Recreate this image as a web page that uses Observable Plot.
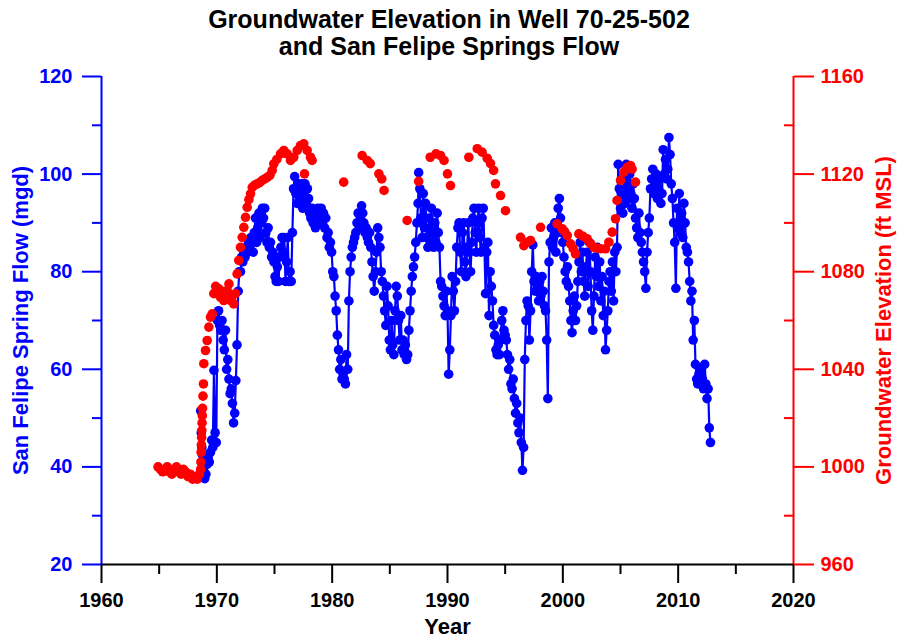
<!DOCTYPE html>
<html>
<head>
<meta charset="utf-8">
<script src="https://cdn.jsdelivr.net/npm/d3@7"></script>
<script src="https://cdn.jsdelivr.net/npm/@observablehq/plot@0.6"></script>
<style>
  body { margin: 0; background: #fff; font-family: "Liberation Sans", Arial, sans-serif; }
  #title { height: 62px; box-sizing: border-box; padding-top: 6px; text-align: center;
           font-weight: bold; font-size: 25px; line-height: 27px; color: #000; }
  #chart svg { display: block; }
</style>
</head>
<body>
<div id="title">Groundwater Elevation in Well 70-25-502<br>and San Felipe Springs Flow</div>
<div id="chart"></div>
<script>
// ---- Data ----
const chartTitle = ["Groundwater Elevation in Well 70-25-502", "and San Felipe Springs Flow"];
const xLabel = "Year";
const flowLabel = "San Felipe Spring Flow (mgd)";
const elevLabel = "Groundwater Elevation (ft MSL)";

const yearMajorTicks = [1960, 1970, 1980, 1990, 2000, 2010, 2020];
const yearMinorTicks = [1965, 1975, 1985, 1995, 2005, 2015];
const flowMajorTicks = [20, 40, 60, 80, 100, 120];
const flowMinorTicks = [30, 50, 70, 90, 110];
const elevMajorTicks = [960, 1000, 1040, 1080, 1120, 1160];
const elevMinorTicks = [980, 1020, 1060, 1100, 1140];

// San Felipe Springs flow [year, mgd]
const flowReadings = [
[1968.60,51.5],[1968.65,47],[1968.70,44],[1968.75,42.5],[1968.80,40.5],[1968.85,41.5],[1968.90,39],[1968.95,37.6],[1969.05,38.5],[1969.15,40.5],[1969.25,42],[1969.35,41],[1969.45,43],[1969.55,45.5],[1969.65,44],[1969.75,59.8],[1969.85,47],[1969.95,45],
[1970.05,70],[1970.15,72],[1970.25,69],[1970.35,68],[1970.45,70],[1970.55,66],[1970.65,64],[1970.75,68],[1970.85,60],[1970.95,62],
[1971.05,58],[1971.15,55],[1971.25,56],[1971.35,53],[1971.45,49],[1971.55,51],[1971.65,57.7],[1971.75,65],[1971.85,76],[1971.95,80],
[1972.05,80],[1972.15,83],[1972.25,82],[1972.35,84],[1972.45,83],[1972.55,85],[1972.65,84],[1972.75,86],[1972.85,85],[1972.95,87],
[1973.05,86],[1973.15,84],[1973.25,88],[1973.35,91],[1973.45,86],[1973.55,89],[1973.65,92],[1973.75,87],[1973.85,90],[1973.95,93],
[1974.05,91],[1974.15,93],[1974.25,88],[1974.35,86],[1974.45,89],[1974.55,85],[1974.65,86],[1974.75,83],[1974.85,84],[1974.95,82],
[1975.05,79],[1975.15,78],[1975.25,81],[1975.35,78],[1975.45,83],[1975.55,85],[1975.65,87],[1975.75,84],[1975.85,87],[1975.95,78],
[1976.05,82],[1976.15,87],[1976.25,78],[1976.35,80],[1976.45,78],[1976.55,88],[1976.65,97],[1976.75,99.5],[1976.85,96],[1976.95,94],
[1977.05,98],[1977.15,97],[1977.25,95],[1977.35,98],[1977.45,93],[1977.55,96],[1977.65,98],[1977.75,94],[1977.85,97],[1977.95,95],
[1978.05,92],[1978.15,91],[1978.25,93],[1978.35,90],[1978.45,92],[1978.55,89],[1978.65,91],[1978.75,93],[1978.85,90],[1978.95,92],
[1979.05,93],[1979.15,90],[1979.25,92],[1979.35,89],[1979.45,91],[1979.55,87],[1979.65,88],[1979.75,85],[1979.85,86],[1979.95,84],
[1980.05,80],[1980.15,79],[1980.25,75],[1980.35,72],[1980.45,67],[1980.55,64],[1980.65,60],[1980.75,62],[1980.85,58],[1980.95,59],
[1981.05,58],[1981.15,57],[1981.25,63],[1981.35,60],[1981.45,74],[1981.55,80],[1981.65,83],[1981.75,85],[1981.85,86],[1981.95,87],
[1982.05,88],[1982.15,90],[1982.25,92],[1982.35,89],[1982.45,91],[1982.55,93.5],[1982.65,92],[1982.75,90],[1982.85,88],[1982.95,89],
[1983.05,87],[1983.15,86],[1983.25,88],[1983.35,85],[1983.45,82],[1983.55,79],[1983.65,76],[1983.75,80],[1983.85,84],[1983.95,89],
[1984.05,87],[1984.15,85],[1984.25,80],[1984.35,78],[1984.45,75],[1984.55,72],[1984.65,69],[1984.75,77],[1984.85,73],[1984.95,66],
[1985.05,64],[1985.15,70],[1985.25,65],[1985.35,63],[1985.45,72],[1985.55,77],[1985.65,75],[1985.75,70],[1985.85,66],[1985.95,71],
[1986.05,64],[1986.15,66],[1986.25,63],[1986.35,65],[1986.45,62],[1986.55,63],[1986.65,68],[1986.75,72],[1986.85,76],[1986.95,79],
[1987.05,81],[1987.15,83],[1987.25,86],[1987.35,90],[1987.45,94],[1987.5,100.3],[1987.6,97],[1987.7,91],[1987.8,87],[1987.9,96],
[1988.0,89],[1988.1,94],[1988.2,87],[1988.3,85],[1988.4,91],[1988.5,86],[1988.6,93],[1988.7,88],[1988.8,85],[1988.9,90],
[1989.0,86],[1989.1,92],[1989.2,88],[1989.3,85],[1989.4,78],[1989.5,77],[1989.6,75],[1989.7,73],[1989.8,71],[1989.9,76],
[1990.0,72],[1990.1,59],[1990.2,64],[1990.3,71],[1990.4,79],[1990.5,76],[1990.6,72],[1990.7,78],[1990.8,85],[1990.9,89],
[1991.0,90],[1991.1,84],[1991.2,80],[1991.3,88],[1991.4,90],[1991.5,82],[1991.6,79],[1991.7,85],[1991.8,90],[1991.9,84],
[1992.0,80],[1992.1,86],[1992.2,91],[1992.3,93],[1992.4,88],[1992.5,84],[1992.6,90],[1992.7,93],[1992.8,87],[1992.9,84],
[1993.0,91],[1993.1,93],[1993.2,85],[1993.3,75.5],[1993.4,84],[1993.5,86],[1993.6,71],[1993.7,80],[1993.8,77],[1993.9,74],
[1994.0,69],[1994.1,67],[1994.2,64],[1994.3,63],[1994.4,65],[1994.5,63],[1994.6,66],[1994.7,70],[1994.8,72],[1994.9,68],
[1995.0,67],[1995.1,66],[1995.2,63],[1995.3,60],[1995.4,62],[1995.5,57],[1995.6,56],[1995.7,58],[1995.8,54],[1995.9,51],
[1996.0,53],[1996.1,49],[1996.2,47],[1996.3,50],[1996.4,45],[1996.5,39.3],[1996.6,44],[1996.7,62],[1996.8,70],[1996.9,74],
[1997.0,73],[1997.1,66],[1997.2,72],[1997.3,80],[1997.4,85.5],[1997.5,78],[1997.6,76],[1997.7,79],[1997.8,77],[1997.9,74],
[1998.0,78],[1998.1,75],[1998.2,79],[1998.3,76],[1998.4,73],[1998.5,72],[1998.6,66],[1998.7,54],[1998.8,82],[1998.9,86],
[1999.0,89],[1999.1,85],[1999.2,87],[1999.3,90],[1999.4,84],[1999.5,88],[1999.6,93],[1999.7,95],[1999.8,91],[1999.9,88],
[2000.0,86],[2000.1,83],[2000.2,80],[2000.3,78],[2000.4,81],[2000.5,77],[2000.6,74],[2000.7,70],[2000.8,67.5],[2000.9,72],
[2001.0,75],[2001.1,70],[2001.2,73],[2001.3,78],[2001.4,82],[2001.5,86],[2001.6,80],[2001.7,84],[2001.8,78],[2001.9,75],
[2002.0,81],[2002.1,84],[2002.2,77],[2002.3,86],[2002.4,80],[2002.5,72],[2002.6,68],[2002.7,75],[2002.8,83],[2002.9,79],
[2003.0,85],[2003.1,77],[2003.2,82],[2003.3,74],[2003.4,79],[2003.5,71],[2003.6,76],[2003.7,64],[2003.8,68],[2003.9,72],
[2004.0,78],[2004.1,80],[2004.2,76],[2004.3,82],[2004.4,74],[2004.5,84],[2004.6,80],[2004.7,85],[2004.8,102],[2004.9,97],
[2005.0,93],[2005.1,96],[2005.2,92],[2005.3,99],[2005.4,94],[2005.5,102],[2005.6,97],[2005.7,95],[2005.8,100],[2005.9,96],
[2006.0,93],[2006.1,98],[2006.2,95],[2006.3,91],[2006.4,89],[2006.5,87],[2006.6,92],[2006.7,88],[2006.8,86],[2006.9,84],
[2007.0,82],[2007.1,80],[2007.2,76.6],[2007.3,84],[2007.4,88],[2007.5,91],[2007.6,97],[2007.7,99],[2007.8,101],[2007.9,96],
[2008.0,98],[2008.1,100],[2008.2,95],[2008.3,97],[2008.4,99],[2008.5,94],[2008.6,96],[2008.7,105],[2008.8,100],[2008.9,103],
[2009.0,99],[2009.1,101],[2009.2,107.5],[2009.3,104],[2009.4,98],[2009.5,95],[2009.6,90],[2009.7,86],[2009.8,76.6],[2009.9,93],
[2010.0,89],[2010.1,96],[2010.2,88],[2010.3,92],[2010.4,87],[2010.5,94],[2010.6,90],[2010.7,85],[2010.8,84],[2010.9,82],
[2011.0,78],[2011.1,74],[2011.2,76],[2011.3,66],[2011.4,70],[2011.5,61],[2011.6,58],[2011.7,57],[2011.8,59],[2011.9,57],
[2012.0,60],[2012.1,58],[2012.2,56],[2012.3,61],[2012.4,57],[2012.5,54],[2012.6,56],[2012.7,48],[2012.8,45]
];

// Groundwater elevation, well 70-25-502 [year, ft MSL]
const wellReadings = [
[1964.9,1000],[1965.1,999],[1965.3,998],[1965.5,999],[1965.7,1000],[1965.9,998],[1966.1,997],[1966.3,999],[1966.5,1000],[1966.7,998],
[1966.9,997],[1967.1,999],[1967.3,998],[1967.5,996],[1967.7,997],[1967.9,995],[1968.1,996],[1968.3,995],[1968.5,997],[1968.6,999],
[1968.62,1002],[1968.64,1006],[1968.66,1009],[1968.68,1012],[1968.7,1015],[1968.72,1018],[1968.74,1021],[1968.76,1024],[1968.8,1029],[1968.84,1034],
[1968.87,1042.3],[1969.02,1047.7],[1969.16,1051.8],[1969.31,1057.3],[1969.45,1061.4],[1969.6,1062.7],[1969.74,1071],
[1969.9,1074],[1970.03,1071],[1970.18,1073],[1970.32,1069.5],[1970.46,1072],[1970.6,1068.2],[1970.75,1070],[1970.9,1072.3],[1971.05,1075],
[1971.19,1068.2],[1971.33,1070],[1971.47,1066.8],[1971.62,1071],
[1971.76,1079.1],[1971.9,1084.6],[1972.05,1090],[1972.2,1094.1],[1972.34,1098.2],[1972.49,1102.3],[1972.63,1106.4],[1972.78,1109.5],
[1972.92,1111.9],[1973.07,1114.6],[1973.28,1115.5],[1973.5,1116],[1973.72,1116.5],[1973.93,1117.4],[1974.15,1118],[1974.37,1118.7],
[1974.6,1119.5],[1974.8,1121.5],[1974.94,1124.2],[1975.2,1126],[1975.52,1128.3],[1975.81,1129.7],[1976.1,1128.3],[1976.39,1125.6],
[1976.67,1126.9],[1976.97,1129.7],[1977.25,1131.7],[1977.54,1132.4],[1977.83,1129.7],[1978.12,1126.9],[1978.26,1125.6],[1977.6,1120.1],
[1981.0,1116.7],[1982.6,1127.6],[1983.04,1125.6],[1983.3,1124.3],[1984.05,1120.1],[1984.3,1118],[1984.5,1113.3],[1986.5,1101],
[1987.5,1117],[1988.5,1126.9],[1989.0,1128.3],[1989.4,1127.6],[1989.7,1125.6],[1990.0,1120.1],[1990.26,1115.3],[1991.85,1126.9],
[1992.58,1130.4],[1993.0,1129],[1993.44,1126.5],[1993.73,1124.3],[1994.0,1121.5],[1994.16,1116],[1994.6,1111.2],[1995.03,1105],
[1996.33,1094.1],[1996.62,1090.7],[1996.9,1092],[1997.2,1092.8],[1998.07,1098.2],[1999.5,1099.6],[1999.94,1097.6],[2000.15,1096.5],
[2000.38,1094.8],[2000.67,1091.4],[2000.9,1089.5],[2001.1,1087.3],[2001.39,1095.5],[2001.75,1094.5],[2002.1,1093.5],[2002.4,1091.5],
[2002.69,1090],[2003.0,1089.6],[2003.27,1089.4],[2003.7,1089.4],[2003.99,1092.1],[2004.28,1096.2],[2004.57,1101.7],[2004.7,1109.2],
[2005.0,1117.4],[2005.3,1120.8],[2005.58,1122.8],[2005.87,1123.5],[2006.0,1122],[2006.3,1116.7]
];

// ---- Build ----
const BLUE = "#0000ff", RED = "#ff0000";
// right axis (ft MSL) is linear with left axis (mgd): 960 ft <-> 20 mgd, 1160 ft <-> 120 mgd
const elevToFlow = ft => (ft - 920) / 2;
const flowToElev = q => 920 + 2 * q;

const flowData = flowReadings.map(([year, mgd]) => ({year, value: mgd}));
const wellData = wellReadings.map(([year, ft]) => ({year, value: elevToFlow(ft)}));

const font = "'Liberation Sans', Arial, sans-serif";

const chart = Plot.plot({
  width: 898,
  height: 579,
  marginTop: 14,
  marginBottom: 77,
  marginLeft: 101,
  marginRight: 105,
  style: {fontFamily: font, fontSize: "20px", fontWeight: "bold", background: "#fff", overflow: "visible"},
  x: {domain: [1960, 2020]},
  y: {domain: [20, 120]},
  marks: [
    Plot.line(flowData, {x: "year", y: "value", stroke: BLUE, strokeWidth: 2.2}),
    Plot.dot(flowData, {x: "year", y: "value", r: 4.8, fill: BLUE, stroke: null}),
    Plot.dot(wellData, {x: "year", y: "value", r: 4.8, fill: RED, stroke: null}),

    // x axis
    Plot.axisX(yearMajorTicks, {tickSize: 19, tickPadding: 9, tickFormat: "d", label: null,
      color: "#000", strokeWidth: 2, fontSize: 20, fontWeight: "bold"}),
    Plot.axisX(yearMinorTicks, {tickSize: 10, tickFormat: () => "", label: null, color: "#000", strokeWidth: 2}),
    // left axis
    Plot.axisY(flowMajorTicks, {anchor: "left", tickSize: 19, tickPadding: 10, label: null,
      color: BLUE, strokeWidth: 2, fontSize: 20, fontWeight: "bold"}),
    Plot.axisY(flowMinorTicks, {anchor: "left", tickSize: 9, tickFormat: () => "", label: null, color: BLUE, strokeWidth: 2}),
    // right axis
    Plot.axisY(elevMajorTicks.map(elevToFlow), {anchor: "right", tickSize: 20, tickPadding: 7,
      tickFormat: d => String(flowToElev(d)), label: null, color: RED, strokeWidth: 2, fontSize: 20, fontWeight: "bold"}),
    Plot.axisY(elevMinorTicks.map(elevToFlow), {anchor: "right", tickSize: 10, dx: -10,
      tickFormat: () => "", label: null, color: RED, strokeWidth: 2}),

    // spines
    Plot.ruleX([1960], {stroke: BLUE, strokeWidth: 2}),
    Plot.ruleX([2020], {stroke: RED, strokeWidth: 2}),
    Plot.ruleY([20], {stroke: "#000", strokeWidth: 2}),

    // axis titles
    Plot.text([xLabel], {text: d => d, frameAnchor: "bottom", dy: 62, lineAnchor: "middle", textAnchor: "middle",
      fontSize: 22, fontWeight: "bold", fill: "#000"}),
    Plot.text([flowLabel], {text: d => d, frameAnchor: "left", dx: -81, rotate: -90, lineAnchor: "middle", textAnchor: "middle",
      fontSize: 22, fontWeight: "bold", fill: BLUE}),
    Plot.text([elevLabel], {text: d => d, frameAnchor: "right", dx: 90, rotate: -90, lineAnchor: "middle", textAnchor: "middle",
      fontSize: 22, fontWeight: "bold", fill: RED})
  ]
});
document.getElementById("chart").appendChild(chart);
</script>
</body>
</html>
